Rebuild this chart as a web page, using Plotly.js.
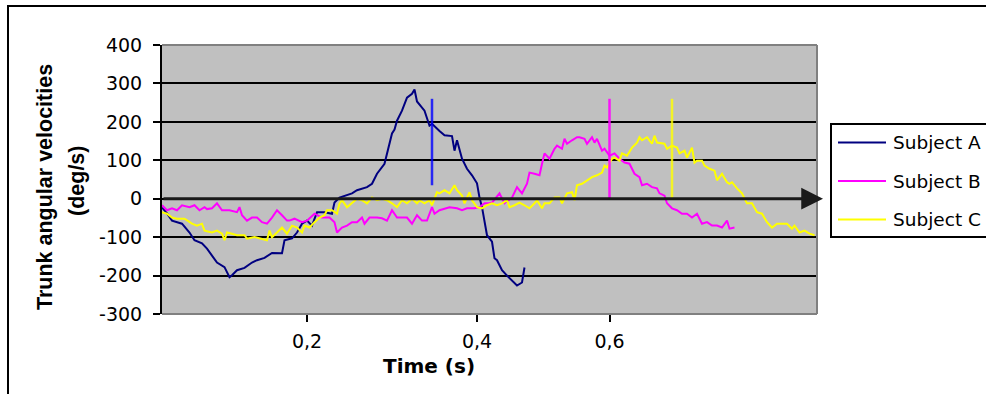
<!DOCTYPE html>
<html>
<head>
<meta charset="utf-8">
<script src="https://cdn.plot.ly/plotly-3.0.1.min.js"></script>
<style>
  html, body { margin: 0; padding: 0; background: #ffffff; }
  #chart { width: 986px; height: 394px; }
</style>
</head>
<body>
<div id="chart"></div>
<script>
// ---- Data (x = sample frame on the category axis, y = trunk angular velocity, deg/s) ----
const seriesNames = ["Subject A", "Subject B", "Subject C"];

const framesA = [0,2,4,8,11,13,16,18,20,22,25,27,28,30,33,36,38,41,44,48,49,52,54,56,58,60,62,65,68,69,71,73,76,78,82,84,86,89,90,92,93,94,96,98,100,101,102,104,105,107,108,111,113,116,117,118,120,122,124,126,127,128,130,132,133,134,136,138,140,142,144,145];
const velA    = [-23,-38,-57,-65,-88,-108,-116,-130,-148,-166,-178,-204,-199,-186,-180,-166,-160,-154,-141,-142,-108,-103,-88,-65,-57,-70,-35,-35,-39,-10,3,8,14,22,30,39,65,91,118,170,180,203,229,263,273,284,253,235,229,190,195,176,165,163,125,152,104,78,61,40,3,-22,-95,-112,-155,-160,-186,-200,-212,-226,-218,-179];

const framesB = [0,2,4,6,8,11,13,15,17,18,20,22,24,27,30,31,32,34,36,38,40,42,44,46,48,50,51,53,56,58,61,64,66,67,69,70,72,74,76,78,80,81,83,86,88,90,92,94,96,98,100,102,104,106,108,109,111,113,115,118,120,122,125,127,129,131,132,135,137,140,142,143,144,146,147,149,151,152,153,155,157,158,160,161,162,164,166,167,169,170,172,173,174,176,177,179,181,183,185,187,189,191,192,194,196,198,199,201,202,204,206,208,210,212,214,216,218,220,222,224,226,227,229];
const velB    = [-17,-30,-25,-30,-17,-22,-17,-30,-22,-27,-25,-12,-30,-30,-35,-22,-43,-57,-49,-49,-61,-65,-49,-30,-43,-57,-57,-52,-61,-57,-39,-49,-49,-49,-61,-88,-75,-70,-61,-61,-49,-65,-49,-49,-51,-57,-30,-49,-49,-49,-65,-43,-57,-57,-22,-39,-30,-25,-22,-25,-30,-25,-25,-22,-12,-12,-10,14,-12,3,30,22,14,39,68,65,61,91,118,104,130,138,130,156,143,152,160,160,156,143,160,146,156,125,130,112,118,104,94,91,65,56,35,39,30,27,14,8,-12,-25,-30,-39,-39,-49,-39,-65,-61,-70,-70,-75,-57,-78,-75];

const framesC = [0,2,4,6,9,12,14,16,17,20,22,24,25,26,28,30,33,34,37,40,42,43,44,46,48,50,52,54,56,57,59,61,63,65,66,68,70,71,72,74,76,78,80,82,84,86,88,90,92,94,96,98,100,102,103,105,107,108,110,111,113,115,117,118,120,121,123,124,126,128,130,132,134,136,138,139,141,143,145,147,149,150,152,153,155,157,159,160,162,164,165,166,168,170,172,174,176,177,178,180,181,183,184,186,188,190,191,192,194,196,197,198,201,202,204,206,207,209,210,212,213,214,216,217,219,221,222,224,226,227,228,230,232,234,236,238,240,242,244,246,248,250,252,253,255,257,259,261];
const velC    = [-35,-39,-49,-52,-52,-65,-70,-65,-83,-88,-83,-91,-108,-88,-91,-95,-95,-104,-100,-104,-108,-83,-100,-88,-75,-91,-70,-75,-88,-70,-75,-61,-49,-43,-30,-30,-39,-12,-4,-22,-10,0,-4,-12,3,-4,0,-4,-12,-22,-4,-12,0,-12,-4,-12,-4,-17,17,14,22,14,35,22,8,-12,17,-4,-22,-25,-17,-12,-17,-12,-4,-22,-17,-10,-17,-25,-12,-4,-25,-12,-12,3,3,-12,14,17,-4,35,39,48,56,61,68,86,81,104,107,99,118,112,133,146,160,152,160,143,164,146,143,130,138,133,118,125,107,133,94,99,99,86,78,73,48,65,43,39,43,27,14,-12,-12,-35,-39,-61,-75,-65,-65,-65,-78,-70,-88,-83,-91,-95];

// vertical event markers (one per subject)
const eventFrames = [108, 179, 204];
const eventLow    = [35, 0, 0];
const eventHigh   = [260, 260, 260];

// axes
const xTickFrames = [58, 126, 179];
const xTickLabels = ["0,2", "0,4", "0,6"];
const yTickValues = [-300, -200, -100, 0, 100, 200, 300, 400];
const yTickLabels = ["-300", "-200", "-100", "0", "100", "200", "300", "400"];

// ---- Styles ----
const lineColors  = ["#000080", "#FF00FF", "#FFFF00"];
const eventColors = ["rgba(0,0,255,0.8)", "rgba(255,0,255,0.9)", "rgba(255,255,0,0.8)"];
const FONT_H = "'DejaVu Sans', Verdana, sans-serif";
const FONT_V = "'Liberation Sans', Arial, sans-serif";

const frames = [framesA, framesB, framesC];
const vels = [velA, velB, velC];

const traces = [];
for (let i = 0; i < 3; i++) {
  traces.push({
    type: "scatter", mode: "lines", name: seriesNames[i],
    x: frames[i], y: vels[i],
    line: { color: lineColors[i], width: 2 },
    showlegend: false, hoverinfo: "skip"
  });
}
for (let i = 0; i < 3; i++) {
  traces.push({
    type: "scatter", mode: "lines",
    x: [eventFrames[i], eventFrames[i]], y: [eventLow[i], eventHigh[i]],
    line: { color: eventColors[i], width: 2.5 },
    showlegend: false, hoverinfo: "skip"
  });
}

// geometry helpers (plot area: left 162, right 817, top 45, bottom 314)
const L = 162, R = 817, T = 45, B = 314;
const px = v => (v - L) / (R - L);
const py = v => (B - v) / (B - T);

const shapes = [
  // outer chart frame
  { type: "rect", xref: "paper", yref: "paper", x0: px(8), x1: px(1100), y0: py(450), y1: py(6),
    line: { color: "#000000", width: 2 }, layer: "below" },
  // gray plot border (top, right, bottom)
  { type: "line", xref: "paper", yref: "paper", x0: 0, x1: 1, y0: 1, y1: 1, line: { color: "#808080", width: 2 }, layer: "above" },
  { type: "line", xref: "paper", yref: "paper", x0: 1, x1: 1, y0: 0, y1: 1, line: { color: "#808080", width: 2 }, layer: "above" },
  { type: "line", xref: "paper", yref: "paper", x0: 0, x1: 1, y0: 0, y1: 0, line: { color: "#808080", width: 2 }, layer: "above" },
  // legend box
  { type: "rect", xref: "paper", yref: "paper", x0: px(831), x1: px(1100), y0: py(237), y1: py(124),
    line: { color: "#000000", width: 2 }, fillcolor: "#ffffff", layer: "above" }
];
const legendY = [142.5, 181, 219.5];
const annotations = [];
for (let i = 0; i < 3; i++) {
  shapes.push({ type: "line", xref: "paper", yref: "paper", x0: px(838), x1: px(886),
    y0: py(legendY[i]), y1: py(legendY[i]), line: { color: lineColors[i], width: 2 }, layer: "above" });
  annotations.push({ xref: "paper", yref: "paper", x: px(891), y: py(legendY[i]), xanchor: "left", yanchor: "middle",
    text: seriesNames[i], showarrow: false, font: { family: FONT_H, size: 18.5, color: "#000000" } });
}
// zero line arrow
annotations.push({ xref: "paper", yref: "y", x: px(823), y: 0, axref: "pixel", ayref: "pixel", ax: -(823 - L), ay: 0,
  text: "", showarrow: true, arrowhead: 2, arrowsize: 1.45, arrowwidth: 3, arrowcolor: "#1a1a1a", standoff: 0 });
// axis titles
annotations.push({ xref: "paper", yref: "paper", x: px(429), y: py(366), xanchor: "center", yanchor: "middle",
  text: "<b>Time (s)</b>", showarrow: false, font: { family: FONT_H, size: 20, color: "#000000" } });
annotations.push({ xref: "paper", yref: "paper", x: px(45), y: py(187), xanchor: "center", yanchor: "middle",
  text: "<b>Trunk angular velocities</b>", textangle: -90, showarrow: false, font: { family: FONT_V, size: 21.5, color: "#000000" } });
annotations.push({ xref: "paper", yref: "paper", x: px(77), y: py(181), xanchor: "center", yanchor: "middle",
  text: "<b>(deg/s)</b>", textangle: -90, showarrow: false, font: { family: FONT_V, size: 21.5, color: "#000000" } });

const layout = {
  width: 986, height: 394,
  margin: { l: L, r: 986 - R, t: T, b: 394 - B, pad: 0 },
  paper_bgcolor: "#ffffff", plot_bgcolor: "#C0C0C0",
  font: { family: FONT_H, size: 19, color: "#000000" },
  showlegend: false,
  xaxis: {
    range: [0, 262], tickmode: "array", tickvals: xTickFrames, ticktext: xTickLabels,
    ticks: "outside", ticklen: 7, tickwidth: 2, tickcolor: "#000000",
    showgrid: false, zeroline: false, showline: false, ticklabelstandoff: 3,
    tickfont: { family: FONT_H, size: 19, color: "#000000" }, fixedrange: true
  },
  yaxis: {
    range: [-300, 400], tickmode: "array", tickvals: yTickValues, ticktext: yTickLabels,
    ticks: "outside", ticklen: 7, tickwidth: 2, tickcolor: "#000000",
    showgrid: true, gridcolor: "#000000", gridwidth: 2, zeroline: false,
    showline: true, linecolor: "#000000", linewidth: 2, ticklabelstandoff: 7,
    tickfont: { family: FONT_H, size: 19, color: "#000000" }, fixedrange: true
  },
  shapes: shapes,
  annotations: annotations
};

Plotly.newPlot("chart", traces, layout, { staticPlot: true, displayModeBar: false });
</script>
</body>
</html>
